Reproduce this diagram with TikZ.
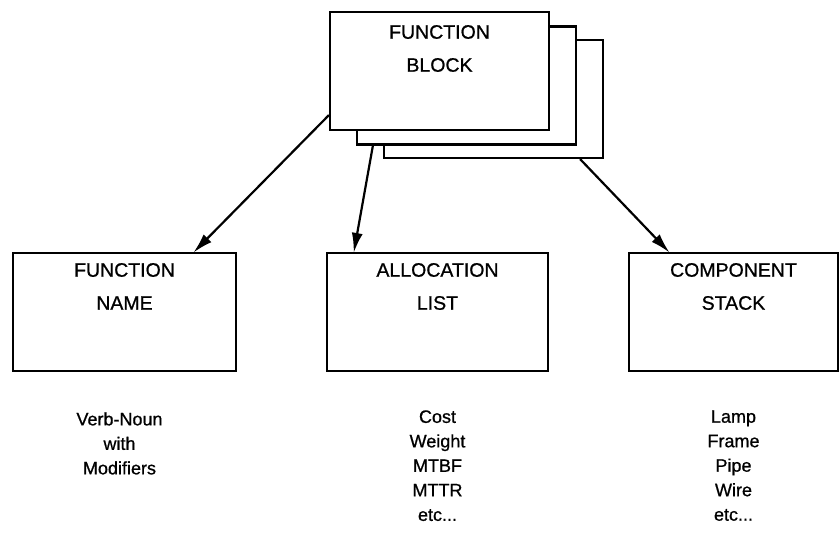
\documentclass[tikz,border=0pt]{standalone}
\usepackage{fontspec}
\setmainfont{Liberation Sans}[FakeBold=0.8]
\usepackage{tikz}
\usetikzlibrary{positioning, calc}
\usetikzlibrary{arrows.meta}
\tikzset{>={Latex[width=11pt,length=20pt]}}

\begin{document}
\begin{tikzpicture}[
    x = 1pt, y = -1pt,
    box/.style = {draw, line width=2.2pt, fill=white, inner sep=0pt,
        minimum width=#1, minimum height=118pt},
    box/.default = 221pt,
    title/.style = {align=center, inner sep=0pt,
        font=\fontsize{19.5}{33}\selectfont},
    list/.style = {align=center, inner sep=0pt,
        font=\fontsize{18}{24.5}\selectfont},
    link/.style = {->, line width=2.2pt, shorten >=-1pt}
  ]
  \useasboundingbox (0,0) rectangle (840,559);

  \node[box=219pt] (FB3) at (493.5,99) {};
  \node[box=219pt] (FB2) at (466.5,85.5) {};
  \node[box=219pt] (FB) at (439.5,71) {};
  \node[title, below=14pt of FB.north] {FUNCTION\\BLOCK};

  \node[box=223pt] (NAME) at (124.5,312) {};
  \node[title, below=11pt of NAME.north] {FUNCTION\\NAME};
  \node[box] (ALLOC) at (437.5,312) {};
  \node[title, below=11pt of ALLOC.north] {ALLOCATION\\LIST};
  \node[box=209pt] (STACK) at (733.5,312) {};
  \node[title, below=11pt of STACK.north] {COMPONENT\\STACK};

  \node[list, below=40pt of NAME, xshift=-5pt] {Verb-Noun\\with\\Modifiers};
  \node[list, below=38pt of ALLOC] {Cost\\Weight\\MTBF\\MTTR\\etc...};
  \node[list, below=38pt of STACK] {Lamp\\Frame\\Pipe\\Wire\\etc...};

  \draw[link] ([yshift=16pt]FB.south west) -- ([xshift=-43pt]NAME.north east);
  \draw[link] ([xshift=17pt]FB2.south west) -- ([xshift=28pt]ALLOC.north west);
  \draw[link] ([xshift=-24pt]FB3.south east) -- ([xshift=41pt]STACK.north west);
\end{tikzpicture}
\end{document}
